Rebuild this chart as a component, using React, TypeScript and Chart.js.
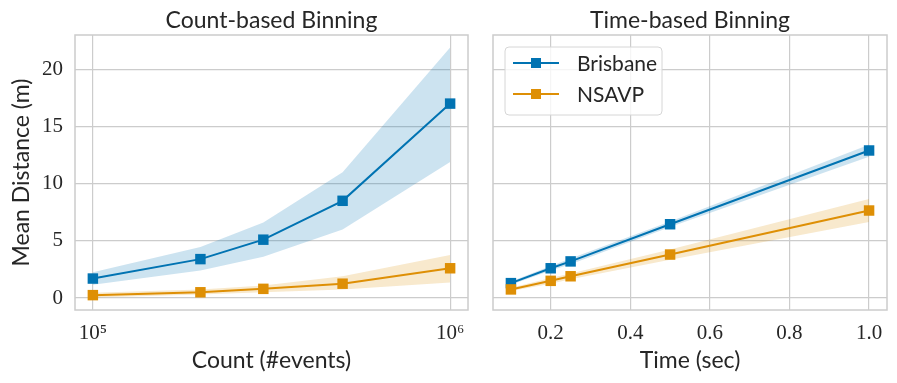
import React, { useEffect, useRef } from 'react';
import { Chart, registerables } from 'chart.js';

Chart.register(...registerables);

// ---------- data ----------
const countX = [1e5, 2e5, 3e5, 5e5, 1e6];
const countBrisbane = [1.7, 3.4, 5.1, 8.5, 17.0];
const countBrisbaneLow = [1.15, 2.4, 3.6, 6.0, 11.9];
const countBrisbaneHigh = [2.25, 4.45, 6.6, 11.0, 21.9];
const countNsavp = [0.25, 0.5, 0.8, 1.25, 2.6];
const countNsavpLow = [0.05, 0.3, 0.5, 0.75, 1.35];
const countNsavpHigh = [0.45, 0.75, 1.1, 1.9, 3.75];

const timeX = [0.1, 0.2, 0.25, 0.5, 1.0];
const timeBrisbane = [1.3, 2.6, 3.2, 6.45, 12.9];
const timeBrisbaneLow = [1.15, 2.4, 2.95, 6.2, 12.35];
const timeBrisbaneHigh = [1.45, 2.8, 3.45, 6.7, 13.4];
const timeNsavp = [0.75, 1.5, 1.9, 3.8, 7.65];
const timeNsavpLow = [0.6, 1.25, 1.65, 3.35, 6.65];
const timeNsavpHigh = [0.9, 1.75, 2.15, 4.25, 8.65];

const countTicks = [1e5, 1e6];
const countTickLabels = ['10\u2075', '10\u2076'];
const timeTicks = [0.2, 0.4, 0.6, 0.8, 1.0];
const timeTickLabels = ['0.2', '0.4', '0.6', '0.8', '1.0'];
const yTicks = [0, 5, 10, 15, 20];
const yTickLabels = ['0', '5', '10', '15', '20'];

const seriesNames = ['Brisbane', 'NSAVP'];

// ---------- style ----------
const BLUE = '#0173B2';
const ORANGE = '#DE8F05';
const BLUE_BAND = 'rgba(1,115,178,0.2)';
const ORANGE_BAND = 'rgba(222,143,5,0.2)';
const GRID = '#cccccc';
const TEXT = '#262626';
const SANS = 'Lato, "Open Sans", "DejaVu Sans", sans-serif';
const SERIF = '"Liberation Serif", "DejaVu Serif", serif';

const pts = (xs: number[], ys: number[]) => xs.map((x, i) => ({ x, y: ys[i] }));

function makeDatasets(xs: number[], b: number[], bl: number[], bh: number[], n: number[], nl: number[], nh: number[]) {
  const line = (label: string, data: number[], color: string, order: number) => ({
    label,
    data: pts(xs, data),
    borderColor: color,
    backgroundColor: color,
    borderWidth: 2,
    pointStyle: 'rect',
    pointRadius: 7.4,
    pointBorderWidth: 0,
    pointBackgroundColor: color,
    fill: false,
    order,
    showInLegend: true,
  });
  const band = (data: number[], color: string, fill: any) => ({
    label: '',
    data: pts(xs, data),
    borderWidth: 0,
    borderColor: 'rgba(0,0,0,0)',
    backgroundColor: color,
    pointRadius: 0,
    fill,
    order: 5,
    showInLegend: false,
  });
  return [
    line(seriesNames[0], b, BLUE, 1),
    line(seriesNames[1], n, ORANGE, 0),
    band(bh, BLUE_BAND, '+1'),
    band(bl, BLUE_BAND, false),
    band(nh, ORANGE_BAND, '+1'),
    band(nl, ORANGE_BAND, false),
  ];
}

const framePlugin = {
  id: 'frame',
  beforeDatasetsDraw(chart: any) {
    const { ctx, chartArea: a } = chart;
    ctx.save();
    ctx.strokeStyle = GRID;
    ctx.lineWidth = 1.5;
    ctx.strokeRect(a.left, a.top, a.right - a.left, a.bottom - a.top);
    ctx.restore();
  },
};

const titlePlugin = {
  id: 'panelTitle',
  afterDraw(chart: any, _args: any, opts: any) {
    const { ctx, chartArea: a } = chart;
    ctx.save();
    ctx.font = `23px ${SANS}`;
    ctx.fillStyle = TEXT;
    ctx.textAlign = 'center';
    ctx.textBaseline = 'alphabetic';
    ctx.fillText(opts.text, (a.left + a.right) / 2, 28);
    ctx.restore();
  },
};

const legendPlugin = {
  id: 'lineLegend',
  afterDraw(chart: any, _args: any, opts: any) {
    if (!opts.show) return;
    const { ctx, chartArea: a } = chart;
    const items = chart.data.datasets.filter((d: any) => d.showInLegend);
    const x0 = a.left + 12;
    const y0 = a.top + 12;
    const w = 157;
    const h = 68;
    ctx.save();
    ctx.beginPath();
    ctx.roundRect(x0, y0, w, h, 4);
    ctx.fillStyle = 'rgba(255,255,255,0.8)';
    ctx.fill();
    ctx.strokeStyle = '#d6d6d6';
    ctx.lineWidth = 1;
    ctx.stroke();
    items.forEach((d: any, i: number) => {
      const y = y0 + 16 + i * 31;
      ctx.strokeStyle = d.borderColor;
      ctx.lineWidth = 2;
      ctx.beginPath();
      ctx.moveTo(x0 + 8, y);
      ctx.lineTo(x0 + 54, y);
      ctx.stroke();
      ctx.fillStyle = d.borderColor;
      ctx.fillRect(x0 + 31 - 5, y - 5, 10, 10);
      ctx.fillStyle = TEXT;
      ctx.font = `21px ${SANS}`;
      ctx.textAlign = 'left';
      ctx.textBaseline = 'alphabetic';
      ctx.fillText(d.label, x0 + 72, y + 8);
    });
    ctx.restore();
  },
};

function yScale(showLabels: boolean, width: number) {
  return {
    min: -1.05,
    max: 23,
    afterBuildTicks: (s: any) => {
      s.ticks = yTicks.map((v) => ({ value: v }));
    },
    afterFit: (s: any) => {
      s.width = width;
      s.paddingTop = 0;
      s.paddingBottom = 0;
    },
    grid: { color: GRID, lineWidth: 1.2, drawTicks: false },
    border: { display: false },
    ticks: {
      display: showLabels,
      font: { family: SERIF, size: 21 },
      color: TEXT,
      padding: 12,
      autoSkip: false,
      callback: (_v: any, i: number) => yTickLabels[i],
    },
    title: {
      display: showLabels,
      text: 'Mean Distance (m)',
      font: { family: SANS, size: 23 },
      color: TEXT,
      padding: { top: 8, bottom: 0 },
    },
  };
}

function xCommon(title: string, ticks: number[], labels: string[]) {
  return {
    afterBuildTicks: (s: any) => {
      s.ticks = ticks.map((v) => ({ value: v }));
    },
    afterFit: (s: any) => {
      s.height = 73;
      s.paddingLeft = 0;
      s.paddingRight = 0;
    },
    grid: { color: GRID, lineWidth: 1.2, drawTicks: false },
    border: { display: false },
    ticks: {
      font: { family: SERIF, size: 21 },
      color: TEXT,
      padding: 11,
      maxRotation: 0,
      autoSkip: false,
      callback: (_v: any, i: number) => labels[i],
    },
    title: {
      display: true,
      text: title,
      font: { family: SANS, size: 23 },
      color: TEXT,
      padding: { top: 0, bottom: 9 },
    },
  };
}

function Panel({ width, kind }: { width: number; kind: 'count' | 'time' }) {
  const ref = useRef<HTMLCanvasElement | null>(null);
  useEffect(() => {
    if (!ref.current) return;
    const isCount = kind === 'count';
    const datasets = isCount
      ? makeDatasets(countX, countBrisbane, countBrisbaneLow, countBrisbaneHigh, countNsavp, countNsavpLow, countNsavpHigh)
      : makeDatasets(timeX, timeBrisbane, timeBrisbaneLow, timeBrisbaneHigh, timeNsavp, timeNsavpLow, timeNsavpHigh);
    const x = isCount
      ? { type: 'logarithmic', min: 89125, max: 1122018, ...xCommon('Count (#events)', countTicks, countTickLabels) }
      : { type: 'linear', min: 0.055, max: 1.045, ...xCommon('Time (sec)', timeTicks, timeTickLabels) };
    const chart = new Chart(ref.current, {
      type: 'line',
      data: { datasets: datasets as any },
      options: {
        animation: false,
        responsive: false,
        devicePixelRatio: 1,
        events: [],
        layout: { autoPadding: false, padding: { top: 35, left: 0, bottom: 0, right: isCount ? 2 : 10 } },
        scales: {
          x: x as any,
          y: yScale(isCount, isCount ? 75 : 23) as any,
        },
        plugins: {
          legend: { display: false },
          tooltip: { enabled: false },
          title: { display: false },
          panelTitle: { text: isCount ? 'Count-based Binning' : 'Time-based Binning' },
          lineLegend: { show: !isCount },
        } as any,
      },
      plugins: [framePlugin, titlePlugin, legendPlugin],
    });
    return () => chart.destroy();
  }, [kind]);
  return <canvas ref={ref} width={width} height={383} style={{ display: 'block', width, height: 383 }} />;
}

export default function App() {
  return (
    <div style={{ position: 'fixed', left: 0, top: 0, width: 897, height: 383, background: '#fff', display: 'flex' }}>
      <Panel width={470} kind="count" />
      <Panel width={427} kind="time" />
    </div>
  );
}
